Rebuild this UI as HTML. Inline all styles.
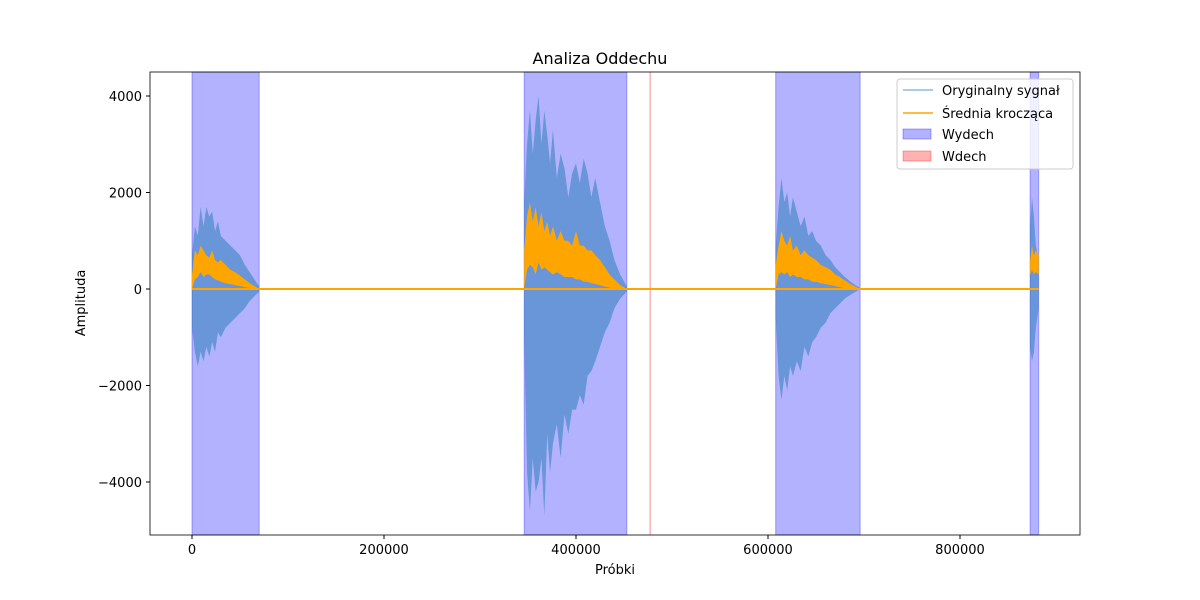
<!DOCTYPE html>
<html><head><meta charset="utf-8"><style>
body{margin:0;background:#fff;}
svg{display:block;font-family:"DejaVu Sans","Liberation Sans",sans-serif;}
</style></head><body>
<svg id="chart" width="1200" height="600">
<rect width="1200" height="600" fill="#fff"/>
<g id="spans"></g><g id="signal"></g><g id="avg"></g>
<rect x="150" y="72" width="930" height="463" fill="none" stroke="#000" stroke-width="0.8"/>
<g id="xt" font-size="13"></g><g id="yt" font-size="13"></g>
<text x="600" y="64" text-anchor="middle" font-size="16">Analiza Oddechu</text>
<text x="615" y="574" text-anchor="middle" font-size="13">Próbki</text>
<text transform="translate(85,303) rotate(-90)" text-anchor="middle" font-size="13">Amplituda</text>
<g>
<rect x="897" y="79" width="176" height="90" rx="3" fill="#fff" fill-opacity="0.8" stroke="#ccc"/>
<g><line x1="903" y1="90" x2="933" y2="90" stroke="#1f77b4" stroke-opacity="0.5" stroke-width="1.5"/><text x="942" y="95" font-size="13">Oryginalny sygnał</text></g>
<g><line x1="903" y1="113" x2="933" y2="113" stroke="#ffa500" stroke-width="1.5"/><text x="942" y="118" font-size="13">Średnia krocząca</text></g>
<g><rect x="903" y="129" width="28" height="10" fill="#0000ff" fill-opacity="0.3" stroke="#0000ff" stroke-opacity="0.3"/><text x="942" y="139" font-size="13">Wydech</text></g>
<g><rect x="903" y="151" width="28" height="10" fill="#ff0000" fill-opacity="0.3" stroke="#ff0000" stroke-opacity="0.3"/><text x="942" y="161" font-size="13">Wdech</text></g>
</g>
</svg>
<script>
const exhaleSpans=[[0,70000],[346000,453000],[608000,696000],[873000,882000]];
const inhaleSpans=[[477000,477800]];
const xTicks=[0,200000,400000,600000,800000];
const yTicks=[4000,2000,0,-2000,-4000];
const segX=[
[0,3000,6000,9000,12000,15000,18000,21000,24000,27000,30000,35000,40000,45000,50000,55000,60000,65000,70000],
[346000,349000,352000,355000,358000,361000,364000,367000,370000,373000,376000,380000,384000,388000,392000,396000,400000,404000,408000,412000,416000,420000,425000,430000,435000,440000,446000,453000],
[608000,611000,614000,617000,620000,623000,626000,630000,634000,638000,642000,646000,650000,655000,660000,665000,670000,675000,680000,686000,691000,696000],
[873000,875000,877000,879000,882000]];
const segHi=[
[700,1300,1100,1700,1300,1700,1500,1600,1200,1400,1100,1000,900,800,700,500,350,200,50],
[1800,3000,3700,2800,3500,4000,3000,3700,3200,2600,3300,2300,2800,2500,1900,2400,2600,2200,2700,2400,1900,2300,1800,1300,1000,600,300,50],
[900,1700,2300,1800,2000,1500,1900,1600,1300,1500,1100,1200,1000,900,700,600,450,350,250,150,80,20],
[1300,1900,1500,900,600]];
const segLo=[
[-800,-1300,-1600,-1300,-1500,-1200,-1400,-1100,-1300,-900,-1000,-800,-700,-600,-500,-400,-250,-150,-50],
[-1000,-3800,-4600,-3500,-4200,-4000,-3500,-4700,-3000,-3800,-3200,-2800,-3500,-2600,-3000,-2500,-2500,-2200,-2400,-1800,-1700,-1500,-1200,-900,-700,-400,-200,-50],
[-600,-1800,-2300,-1800,-2100,-1600,-1800,-1500,-1700,-1200,-1400,-1100,-1000,-800,-700,-500,-400,-300,-200,-120,-60,0],
[-1200,-1500,-1300,-800,-400]];
const avgHi=[
[300,800,700,900,800,700,650,800,600,550,600,500,400,350,280,200,120,60,0],
[800,1500,1800,1400,1700,1300,1600,1200,1400,1100,1300,1000,1200,1000,1000,900,1200,900,900,800,800,700,600,450,300,200,80,0],
[500,900,1200,1000,900,1100,800,900,700,800,700,650,600,500,450,400,300,250,180,100,50,0],
[600,900,700,800,700]];
const avgLo=[
[0,200,250,350,250,300,300,250,200,180,150,120,100,80,60,40,20,10,0],
[0,400,500,450,300,550,400,450,400,350,300,350,300,250,250,250,200,200,150,150,120,100,80,50,30,10,0,0],
[0,300,350,300,350,250,300,250,250,200,200,150,150,120,100,80,60,40,20,10,0,0],
[300,400,300,350,300]];
const X=v=>150+(v+43750)/968750*930;
const Y=v=>289-v*0.04825;
const NS="http://www.w3.org/2000/svg";
function mk(t,a,p){const e=document.createElementNS(NS,t);for(const k in a)e.setAttribute(k,a[k]);p.appendChild(e);return e;}
const sp=document.getElementById('spans');
exhaleSpans.forEach((s,i)=>{const r=mk('rect',{x:X(s[0]),y:72,width:X(s[1])-X(s[0]),height:463,fill:'#0000ff','fill-opacity':0.3,stroke:'#0000ff','stroke-opacity':0.3},sp);

});
inhaleSpans.forEach((s,i)=>{const r=mk('rect',{x:X(s[0])-0.5,y:72,width:Math.max(1.5,X(s[1])-X(s[0])),height:463,fill:'#ff0000','fill-opacity':0.3},sp);

});
const sg=document.getElementById('signal'),ag=document.getElementById('avg');
const base=mk('line',{x1:X(0),x2:X(882000),y1:Y(0),y2:Y(0),stroke:'#8fb4d9','stroke-width':1.5},sg);


function band(xs,hi,lo,g,fill,op){let p=xs.map((x,i)=>X(x)+','+Y(hi[i]));for(let i=xs.length-1;i>=0;i--)p.push(X(xs[i])+','+Y(lo[i]));return mk('polygon',{points:p.join(' '),fill:fill,'fill-opacity':op},g);}
segX.forEach((xs,i)=>{const b=band(xs,segHi[i],segLo[i],sg,'#1f77b4',0.5);

});
const al=mk('line',{x1:X(0),x2:X(882000),y1:Y(0),y2:Y(0),stroke:'#ffa500','stroke-width':2},ag);


segX.forEach((xs,i)=>{const b=band(xs,avgHi[i],avgLo[i],ag,'#ffa500',1);

});
const xt=document.getElementById('xt');
xTicks.forEach(v=>{mk('line',{x1:X(v),x2:X(v),y1:535,y2:539,stroke:'#000'},xt);const t=mk('text',{x:X(v),y:554,'text-anchor':'middle'},xt);t.textContent=v;

});
const yt=document.getElementById('yt');
yTicks.forEach(v=>{mk('line',{x1:146,x2:150,y1:Y(v),y2:Y(v),stroke:'#000'},yt);const t=mk('text',{x:142,y:Y(v)+5,'text-anchor':'end'},yt);t.textContent=v<0?'\u2212'+(-v):v;

});
</script>
</body></html>
